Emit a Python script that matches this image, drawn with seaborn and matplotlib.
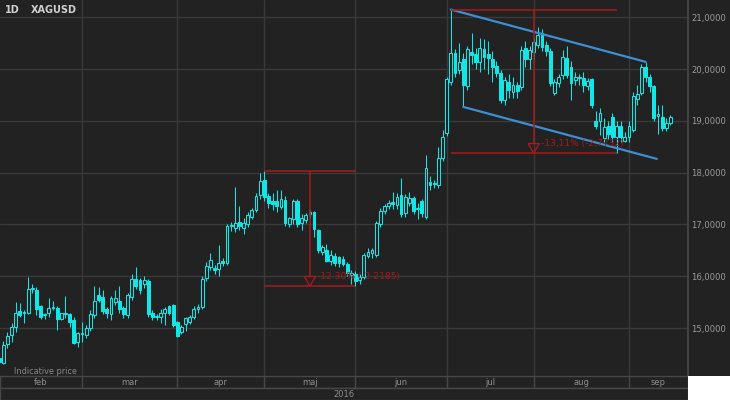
import matplotlib
matplotlib.use("Agg")
import matplotlib.pyplot as plt
from matplotlib.patches import Polygon, Rectangle
import numpy as np
import pandas as pd
import seaborn as sns

# ── Data (daily XAGUSD candles, 2 Feb - 15 Sep 2016) ─────────────────────────
opens = [
    14.43, 14.33, 14.69, 14.87, 15.02, 15.33, 15.29, 15.30, 15.76, 15.73,
    15.42, 15.25, 15.29, 15.38, 15.38, 15.18, 15.27, 15.27, 15.15, 14.73,
    14.88, 14.86, 15.00, 15.25, 15.63, 15.60, 15.36, 15.27, 15.50, 15.52,
    15.38, 15.25, 15.60, 15.95, 15.93, 15.85, 15.91, 15.29, 15.21, 15.21,
    15.30, 15.42, 15.44, 15.11, 14.92, 15.07, 15.12, 15.21, 15.37, 15.40,
    15.96, 16.18, 16.16, 16.15, 16.30, 16.25, 16.97, 16.93, 17.05, 16.93,
    17.01, 17.14, 17.28, 17.56, 17.86, 17.55, 17.46, 17.45, 17.33, 17.47,
    17.00, 17.10, 17.45, 17.02, 17.08, 17.20, 17.24, 16.90, 16.47, 16.50,
    16.30, 16.40, 16.37, 16.33, 16.23, 16.03, 16.04, 15.92, 15.98, 16.40,
    16.44, 16.42, 17.00, 17.27, 17.35, 17.43, 17.38, 17.57, 17.22, 17.41,
    17.51, 17.30, 17.45, 17.15, 17.82, 17.78, 17.76, 18.28, 18.76, 19.75,
    20.31, 19.98, 20.20, 19.67, 20.33, 20.30, 20.14, 20.38, 20.30, 20.20,
    20.06, 19.92, 19.40, 19.75, 19.55, 19.70, 19.65, 20.40, 20.19, 20.33,
    20.46, 20.70, 20.46, 20.35, 19.54, 19.73, 19.88, 20.21, 20.04, 19.79,
    19.84, 19.83, 19.67, 19.81, 19.00, 19.00, 18.67, 18.90, 19.08, 18.69,
    18.90, 18.62, 18.69, 18.82, 19.42, 19.54, 20.04, 19.85, 19.67, 19.09,
    19.07, 18.86, 18.96,
]
highs = [
    14.50, 14.75, 14.92, 15.10, 15.50, 15.48, 15.34, 15.99, 15.85, 15.80,
    15.45, 15.30, 15.58, 15.53, 15.42, 15.30, 15.62, 15.30, 15.22, 14.93,
    15.11, 15.05, 15.35, 15.81, 15.80, 15.74, 15.40, 15.62, 15.74, 15.82,
    15.42, 15.68, 16.04, 16.18, 15.97, 16.00, 15.95, 15.35, 15.28, 15.36,
    15.40, 15.45, 15.47, 15.14, 15.06, 15.22, 15.25, 15.42, 15.46, 16.00,
    16.28, 16.45, 16.22, 16.60, 16.35, 17.00, 17.05, 17.72, 17.35, 17.12,
    17.25, 17.32, 17.60, 17.99, 18.03, 17.60, 17.60, 17.67, 17.67, 17.55,
    17.15, 17.50, 17.50, 17.20, 17.22, 17.30, 17.27, 16.92, 16.60, 16.62,
    16.50, 16.44, 16.40, 16.40, 16.27, 16.12, 16.10, 16.05, 16.45, 16.55,
    16.55, 17.06, 17.32, 17.40, 17.48, 17.62, 17.60, 17.90, 17.58, 17.62,
    17.55, 17.42, 17.50, 18.34, 17.93, 17.86, 18.50, 18.82, 19.85, 21.15,
    20.38, 20.50, 20.31, 20.45, 20.70, 20.40, 20.60, 20.58, 20.55, 20.35,
    20.15, 19.98, 19.85, 19.90, 19.85, 19.75, 20.45, 20.55, 20.45, 20.60,
    20.81, 20.78, 20.55, 20.40, 19.80, 19.90, 20.37, 20.45, 20.15, 19.95,
    19.90, 19.95, 19.82, 19.83, 19.20, 19.25, 19.05, 19.00, 19.15, 19.00,
    19.00, 18.78, 19.00, 19.55, 19.70, 20.10, 20.14, 19.90, 19.70, 19.30,
    19.30, 19.05, 19.12,
]
lows = [
    14.30, 14.30, 14.62, 14.74, 14.92, 15.21, 15.10, 15.28, 15.67, 15.26,
    15.18, 15.17, 15.21, 15.35, 14.96, 15.15, 15.20, 15.02, 14.69, 14.63,
    14.73, 14.80, 14.95, 15.20, 15.50, 15.28, 15.20, 15.15, 15.45, 15.30,
    15.20, 15.20, 15.55, 15.75, 15.65, 15.78, 15.22, 15.15, 15.15, 15.10,
    15.05, 15.25, 15.02, 14.82, 14.88, 14.94, 15.08, 15.18, 15.30, 15.36,
    15.90, 16.12, 16.05, 16.00, 16.20, 16.22, 16.88, 16.85, 16.90, 16.82,
    16.95, 17.10, 17.25, 17.50, 17.45, 17.32, 17.28, 17.25, 17.30, 16.98,
    16.95, 17.00, 16.95, 16.90, 17.02, 17.12, 16.75, 16.45, 16.42, 16.27,
    16.22, 16.20, 16.18, 16.20, 16.00, 15.85, 15.81, 15.85, 15.95, 16.35,
    16.35, 16.38, 16.95, 17.20, 17.30, 17.30, 17.30, 17.15, 17.15, 17.35,
    17.20, 17.10, 17.14, 17.10, 17.66, 17.70, 17.70, 18.22, 18.70, 19.70,
    19.85, 19.90, 19.27, 19.60, 20.10, 20.00, 19.95, 20.00, 19.90, 19.75,
    19.85, 19.35, 19.30, 19.45, 19.45, 19.45, 19.60, 20.05, 20.00, 20.20,
    20.40, 20.35, 20.25, 19.68, 19.50, 19.65, 19.80, 19.82, 19.40, 19.70,
    19.70, 19.55, 19.60, 19.25, 18.85, 18.73, 18.60, 18.65, 18.60, 18.377,
    18.60, 18.60, 18.60, 18.78, 19.30, 19.50, 19.75, 19.55, 19.00, 18.75,
    18.80, 18.80, 18.93,
]
closes = [
    14.34, 14.68, 14.85, 15.02, 15.29, 15.25, 15.32, 15.75, 15.78, 15.37,
    15.22, 15.27, 15.38, 15.41, 15.18, 15.29, 15.30, 15.12, 14.72, 14.90,
    14.91, 15.00, 15.27, 15.52, 15.54, 15.33, 15.30, 15.59, 15.58, 15.36,
    15.27, 15.64, 15.95, 15.81, 15.74, 15.93, 15.27, 15.21, 15.22, 15.29,
    15.37, 15.29, 15.05, 14.85, 15.02, 15.19, 15.21, 15.37, 15.40, 15.95,
    16.20, 16.32, 16.13, 16.25, 16.26, 16.98, 16.99, 17.03, 16.97, 17.03,
    17.18, 17.28, 17.55, 17.83, 17.53, 17.42, 17.39, 17.35, 17.50, 17.03,
    17.12, 17.45, 17.00, 17.12, 17.18, 17.24, 16.92, 16.50, 16.56, 16.30,
    16.42, 16.25, 16.26, 16.24, 16.06, 16.07, 15.90, 15.98, 16.42, 16.47,
    16.50, 17.02, 17.27, 17.35, 17.42, 17.40, 17.53, 17.20, 17.53, 17.51,
    17.26, 17.31, 17.22, 18.09, 17.76, 17.80, 18.28, 18.69, 19.80, 20.31,
    19.92, 20.14, 19.69, 20.39, 20.27, 20.14, 20.40, 20.23, 20.22, 20.04,
    19.92, 19.40, 19.79, 19.60, 19.70, 19.57, 20.36, 20.19, 20.36, 20.52,
    20.66, 20.43, 20.35, 19.73, 19.75, 19.85, 20.23, 19.88, 19.73, 19.85,
    19.82, 19.69, 19.77, 19.31, 18.90, 19.15, 18.88, 18.74, 18.69, 18.90,
    18.69, 18.69, 18.90, 19.48, 19.52, 20.04, 19.85, 19.67, 19.05, 19.13,
    18.86, 18.96, 19.07,
]

month_labels = ["feb", "mar", "apr", "maj", "jun", "jul", "aug", "sep"]
price_ticks = [15, 16, 17, 18, 19, 20, 21]

# drawdown markers: (first candle, last candle, move, label)
drops = [
    (64, 86, 2.2185, "-12.30% (-2.2185)"),
    (109, 149, 2.7732, "-13,11% (-2,7732)"),
]
# falling channel: upper line through two highs, lower parallel from a low
channel_upper = [109, 156]
channel_lower_start = 112
channel_lower_end = 158.7

BG = "#222222"
GRID = "#3a3a3a"
BORDER = "#474747"
CANDLE = "#12e6e6"
RED = "#a81a1a"
BLUE = "#3d8fd4"
TXT = "#8e8e8e"

sns.set_theme(style="dark", rc={
    "axes.facecolor": BG,
    "figure.facecolor": BG,
    "savefig.facecolor": BG,
    "axes.edgecolor": BORDER,
})
plt.rcParams["font.family"] = ["DejaVu Sans"]

df = pd.DataFrame({
    "date": pd.bdate_range("2016-02-02", periods=len(closes)),
    "open": opens, "high": highs, "low": lows, "close": closes,
})
df["idx"] = np.arange(len(df))
up = df[df["close"] >= df["open"]]
down = df[df["close"] < df["open"]]

X_LO, X_HI = 0.21, 166.24
Y_LO, Y_HI = 14.075, 21.334

fig = plt.figure(figsize=(7.3, 4.0), dpi=100)
ax = fig.add_axes([0, 24 / 400, 688 / 730, 376 / 400])
ax_m = fig.add_axes([0, 12 / 400, 688 / 730, 12 / 400])
ax_y = fig.add_axes([0, 0, 688 / 730, 12 / 400])

# ── Grid ─────────────────────────────────────────────────────────────────────
starts = df.groupby(df["date"].dt.to_period("M"))["idx"].min().values[1:]
for s in starts:
    ax.axvline(s, color=GRID, lw=1.0, zorder=0)
for p in price_ticks:
    ax.axhline(p, color=GRID, lw=1.0, zorder=0)

# ── Candles ──────────────────────────────────────────────────────────────────
ax.vlines(df["idx"], df["low"], df["high"], color=CANDLE, lw=0.75, zorder=2)
body_w = 0.68
ax.bar(up["idx"], np.maximum(up["close"] - up["open"], 0.02), bottom=up["open"],
       width=body_w, facecolor=BG, edgecolor=CANDLE, lw=0.75, zorder=3)
ax.bar(down["idx"], np.maximum(down["open"] - down["close"], 0.02), bottom=down["close"],
       width=body_w, facecolor=CANDLE, edgecolor=CANDLE, lw=0.75, zorder=3)

# ── Falling channel ──────────────────────────────────────────────────────────
u0, u1 = channel_upper
hu0, hu1 = df["high"][u0], df["high"][u1]
slope = (hu1 - hu0) / (u1 - u0)
l0 = df["low"][channel_lower_start]
sns.lineplot(x=[u0, u1], y=[hu0, hu1], ax=ax, color=BLUE, lw=1.6, zorder=4)
sns.lineplot(x=[channel_lower_start, channel_lower_end],
             y=[l0, l0 + slope * (channel_lower_end - channel_lower_start)],
             ax=ax, color=BLUE, lw=1.6, zorder=4)

# ── Drawdown markers ─────────────────────────────────────────────────────────
for a, b, move, label in drops:
    top = df["high"][a]
    bot = top - move
    mid = (a + b) / 2
    ax.hlines([top, bot], a, b, color=RED, lw=1.1, zorder=5)
    ax.vlines(mid, bot + 0.185, top, color=RED, lw=1.1, zorder=5)
    ax.add_patch(Polygon([(mid - 1.35, bot + 0.185), (mid + 1.35, bot + 0.185), (mid, bot)],
                         closed=True, fill=False, edgecolor=RED, lw=1.0, zorder=5))
    ax.text(mid + 1.7, bot + 0.185, label, color=RED, fontsize=6.6,
            va="center", ha="left", zorder=6)

ax.set_xlim(X_LO, X_HI)
ax.set_ylim(Y_LO, Y_HI)
ax.set_xticks([])
ax.set_yticks(price_ticks)
ax.set_yticklabels([f"{p:.4f}".replace(".", ",") for p in price_ticks])
ax.yaxis.tick_right()
ax.tick_params(axis="y", length=0, pad=2.5, labelsize=6.1, labelcolor="#9a9a9a")
ax.set_xlabel("")
ax.set_ylabel("")
for side in ["left", "top", "bottom"]:
    ax.spines[side].set_visible(False)
ax.spines["right"].set_color(BORDER)
ax.grid(False)

# header and footnote, placed in figure pixels
fig.text(5 / 730, 1 - 10 / 400, "1D", color="#d0d0d0", fontsize=7,
         fontweight="bold", va="center", ha="left")
fig.text(31 / 730, 1 - 10 / 400, "XAGUSD", color="#d0d0d0", fontsize=7,
         fontweight="bold", va="center", ha="left")
fig.text(14 / 730, 1 - 371 / 400, "Indicative price", color="#888888", fontsize=5.9,
         va="center", ha="left")

# ── Month row ────────────────────────────────────────────────────────────────
edges = [X_LO] + list(starts) + [X_HI]
ax_m.set_xlim(X_LO, X_HI)
ax_m.set_ylim(0, 1)
for s in starts:
    ax_m.axvline(s, color=BORDER, lw=1.0)
for lab, e0, e1 in zip(month_labels, edges[:-1], edges[1:]):
    ax_m.text((e0 + e1) / 2, 0.45, lab, color=TXT, fontsize=6.0, ha="center", va="center")

ax_y.set_xlim(X_LO, X_HI)
ax_y.set_ylim(0, 1)
ax_y.text((X_LO + X_HI) / 2, 0.45, "2016", color=TXT, fontsize=6.0, ha="center", va="center")

for a_ in (ax_m, ax_y):
    a_.set_xticks([])
    a_.set_yticks([])
    a_.grid(False)
    for side in a_.spines:
        a_.spines[side].set_color(BORDER)
        a_.spines[side].set_linewidth(1.0)

fig.add_artist(Rectangle((688 / 730, 0), 42 / 730, 24 / 400, transform=fig.transFigure,
                         facecolor="white", edgecolor="none"))

fig.savefig("out.png", dpi=100)
plt.close(fig)
